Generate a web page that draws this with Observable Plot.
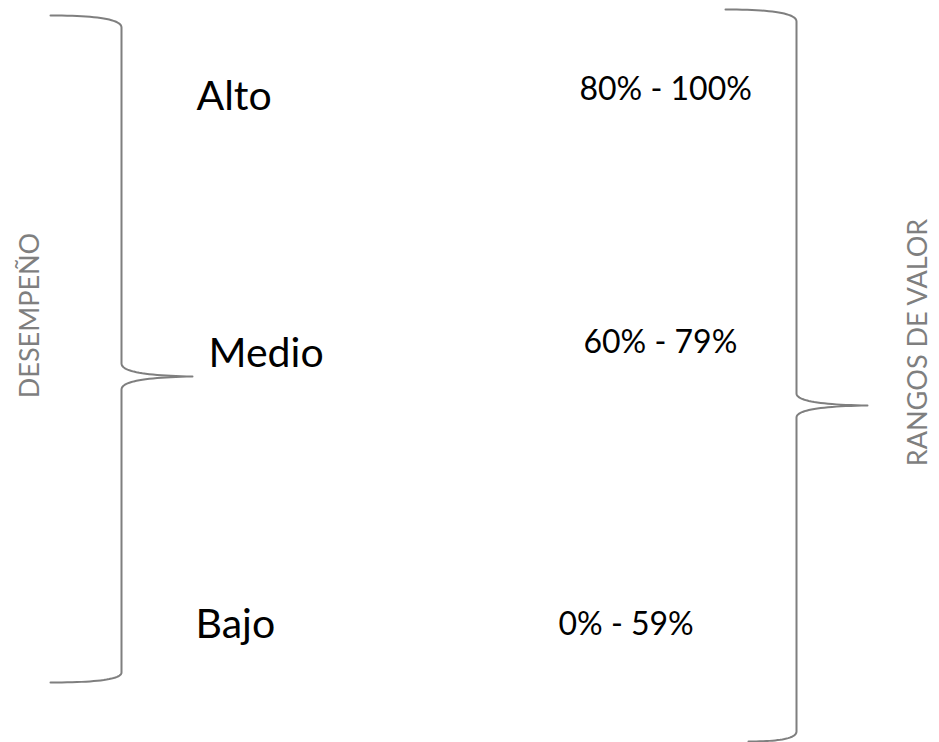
<!DOCTYPE html>
<html>
<head>
<meta charset="utf-8">
<script src="https://cdn.jsdelivr.net/npm/d3@7"></script>
<script src="https://cdn.jsdelivr.net/npm/@observablehq/plot@0.6"></script>
<style>
  html, body { margin: 0; padding: 0; background: #fff; overflow: hidden; }
  #chart svg { display: block; }
</style>
</head>
<body>
<div id="chart"></div>
<script>
// ---- content ----
const levels = ["Alto", "Medio", "Bajo"];
const ranges = ["80% - 100%", "60% - 79%", "0% - 59%"];
const leftTitle = "DESEMPEÑO";
const rightTitle = "RANGOS DE VALOR";

// ---- layout (pixel space of the 939x742 canvas) ----
const levelX = [196, 208, 195];
const levelBaseline = [109, 366, 637];
const rangeX = [579, 583, 558];
const rangeBaseline = [99, 352, 634];

// brace geometry: ends, spine, tip
const braces = [
  {id: "left",  xEndTop: 50,  xEndBot: 50,  xSpine: 121, xTip: 192, yTop: 15, yMid: 376, yBot: 682, gap: 13},
  {id: "right", xEndTop: 725, xEndBot: 748, xSpine: 796, xTip: 867, yTop: 9,  yMid: 405, yBot: 741, gap: 12}
];

function quad(p0, c, p2, n = 24) {
  const out = [];
  for (let i = 0; i <= n; i++) {
    const t = i / n, u = 1 - t;
    out.push([u*u*p0[0] + 2*u*t*c[0] + t*t*p2[0], u*u*p0[1] + 2*u*t*c[1] + t*t*p2[1]]);
  }
  return out;
}

function bracePath(b) {
  const s = b.xSpine, g = b.gap;
  const pts = [
    ...quad([b.xEndTop, b.yTop], [s, b.yTop], [s, b.yTop + 12]),
    ...quad([s, b.yMid - g], [s, b.yMid - 1], [b.xTip, b.yMid]),
    ...quad([b.xTip, b.yMid], [s, b.yMid + 1], [s, b.yMid + g]),
    ...quad([s, b.yBot - 10], [s, b.yBot], [b.xEndBot, b.yBot])
  ];
  return pts.map(([x, y]) => ({id: b.id, x, y}));
}
const bracePoints = braces.flatMap(bracePath);

const levelRows = levels.map((t, i) => ({t, x: levelX[i], y: levelBaseline[i]}));
const rangeRows = ranges.map((t, i) => ({t, x: rangeX[i], y: rangeBaseline[i]}));

const FONT = "Lato, 'Open Sans', sans-serif";
const GRAY = "#7f7f7f";

const chart = Plot.plot({
  width: 939,
  height: 742,
  margin: 0,
  style: {background: "#fff", fontFamily: FONT},
  x: {domain: [0, 939], range: [0, 939], axis: null},
  y: {domain: [0, 742], range: [0, 742], axis: null},
  marks: [
    Plot.line(bracePoints, {x: "x", y: "y", z: "id", stroke: GRAY, strokeWidth: 2, curve: "linear"}),
    Plot.text(levelRows, {x: "x", y: "y", text: "t", textAnchor: "start", lineAnchor: "bottom",
      fontSize: 41, fill: "#000", fontFamily: FONT}),
    Plot.text(rangeRows, {x: "x", y: "y", text: "t", textAnchor: "start", lineAnchor: "bottom",
      fontSize: 32, fill: "#000", fontFamily: FONT}),
    Plot.text([leftTitle], {x: () => 30, y: () => 315, text: d => d, rotate: -90,
      textAnchor: "middle", lineAnchor: "middle", fontSize: 27, fill: GRAY, fontFamily: FONT}),
    Plot.text([rightTitle], {x: () => 918, y: () => 342, text: d => d, rotate: -90,
      textAnchor: "middle", lineAnchor: "middle", fontSize: 27, fill: GRAY, fontFamily: FONT})
  ]
});
document.getElementById("chart").appendChild(chart);
</script>
</body>
</html>
